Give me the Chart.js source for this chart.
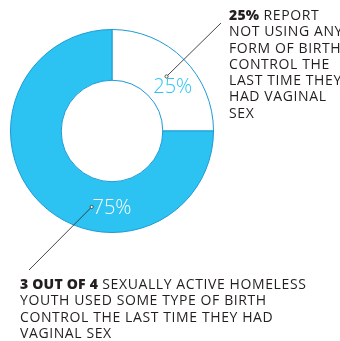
<!DOCTYPE html>
<html><head><meta charset="utf-8">
<script src="https://cdn.jsdelivr.net/npm/chart.js@4.4.1/dist/chart.umd.min.js"></script>
<style>
html,body{margin:0;padding:0;background:#fff;width:340px;height:341px;overflow:hidden;}
#wrap{position:relative;width:340px;height:341px;}
canvas{position:absolute;left:0;top:0;}
.note{position:absolute;font-family:"Open Sans",sans-serif;font-size:14px;line-height:16.3px;color:#231f20;white-space:nowrap;letter-spacing:0.6px;}
.note b{font-weight:800;letter-spacing:0.2px;}
</style></head>
<body><div id="wrap"><canvas id="c" width="340" height="341"></canvas>
<div class="note" id="n1" style="left:229px;top:7px;"></div>
<div class="note" id="n2" style="left:20px;top:276px;"></div>
</div>
<script>
const categories = ["Not using any birth control", "Used some type of birth control"];
const values = [25, 75];
const valueLabels = ["25%", "75%"];
const noteBold = ["25%", "3 OUT OF 4"];
const noteLines = [
  [" REPORT", "NOT USING ANY", "FORM OF BIRTH", "CONTROL THE", "LAST TIME THEY", "HAD VAGINAL", "SEX"],
  [" SEXUALLY ACTIVE HOMELESS", "YOUTH USED SOME TYPE OF BIRTH", "CONTROL THE LAST TIME THEY HAD", "VAGINAL SEX"]
];

function fillNote(id, bold, lines){
  const el = document.getElementById(id);
  const b = document.createElement('b'); b.textContent = bold; el.appendChild(b);
  lines.forEach((l,i)=>{ if(i>0) el.appendChild(document.createElement('br')); el.appendChild(document.createTextNode(l)); });
}
fillNote('n1', noteBold[0], noteLines[0]);
fillNote('n2', noteBold[1], noteLines[1]);

// label placement (style): angle in degrees from top clockwise, radius fraction between inner/outer
const labelStyle = [
  {angle: 54, r: 0.48, color: '#2cc3f2'},
  {angle: 180, r: 0.52, color: '#ffffff'}
];
const leaderStyle = [
  {from: {angle: 45, r: 0.52}, to: [221, 23]},
  {from: {angle: 195, r: 0.55}, to: [29, 270]}
];

const labelPlugin = {
  id: 'labels',
  afterDatasetsDraw(chart){
    const ctx = chart.ctx;
    const arc = chart.getDatasetMeta(0).data[0];
    const {x, y, innerRadius, outerRadius} = arc.getProps(['x','y','innerRadius','outerRadius'], true);
    const pos = (deg, f) => {
      const rr = innerRadius + (outerRadius - innerRadius) * f;
      const a = deg * Math.PI / 180;
      return [x + rr * Math.sin(a), y - rr * Math.cos(a)];
    };
    ctx.save();
    leaderStyle.forEach(ls => {
      const [px, py] = pos(ls.from.angle, ls.from.r);
      ctx.strokeStyle = '#333';
      ctx.lineWidth = 0.9;
      ctx.beginPath(); ctx.moveTo(px, py); ctx.lineTo(ls.to[0], ls.to[1]); ctx.stroke();
      ctx.beginPath(); ctx.arc(px, py, 1.6, 0, Math.PI*2);
      ctx.fillStyle = '#fff'; ctx.fill(); ctx.lineWidth = 0.8; ctx.stroke();
    });
    ctx.font = '300 20px "Open Sans", sans-serif';
    ctx.textAlign = 'center'; ctx.textBaseline = 'middle';
    valueLabels.forEach((t, i) => {
      const [px, py] = pos(labelStyle[i].angle, labelStyle[i].r);
      ctx.fillStyle = labelStyle[i].color;
      ctx.fillText(t, px, py);
    });
    ctx.restore();
  }
};

new Chart(document.getElementById('c'), {
  type: 'doughnut',
  data: {
    labels: categories,
    datasets: [{
      data: values,
      backgroundColor: ['#ffffff', '#2cc3f2'],
      borderColor: '#1b9ad6',
      borderWidth: 1
    }]
  },
  options: {
    responsive: false,
    animation: false,
    cutout: '50%',
    layout: {padding: {left: 10, right: 126, top: 29, bottom: 108}},
    plugins: {legend: {display: false}, tooltip: {enabled: false}}
  },
  plugins: [labelPlugin]
});
</script></body></html>
